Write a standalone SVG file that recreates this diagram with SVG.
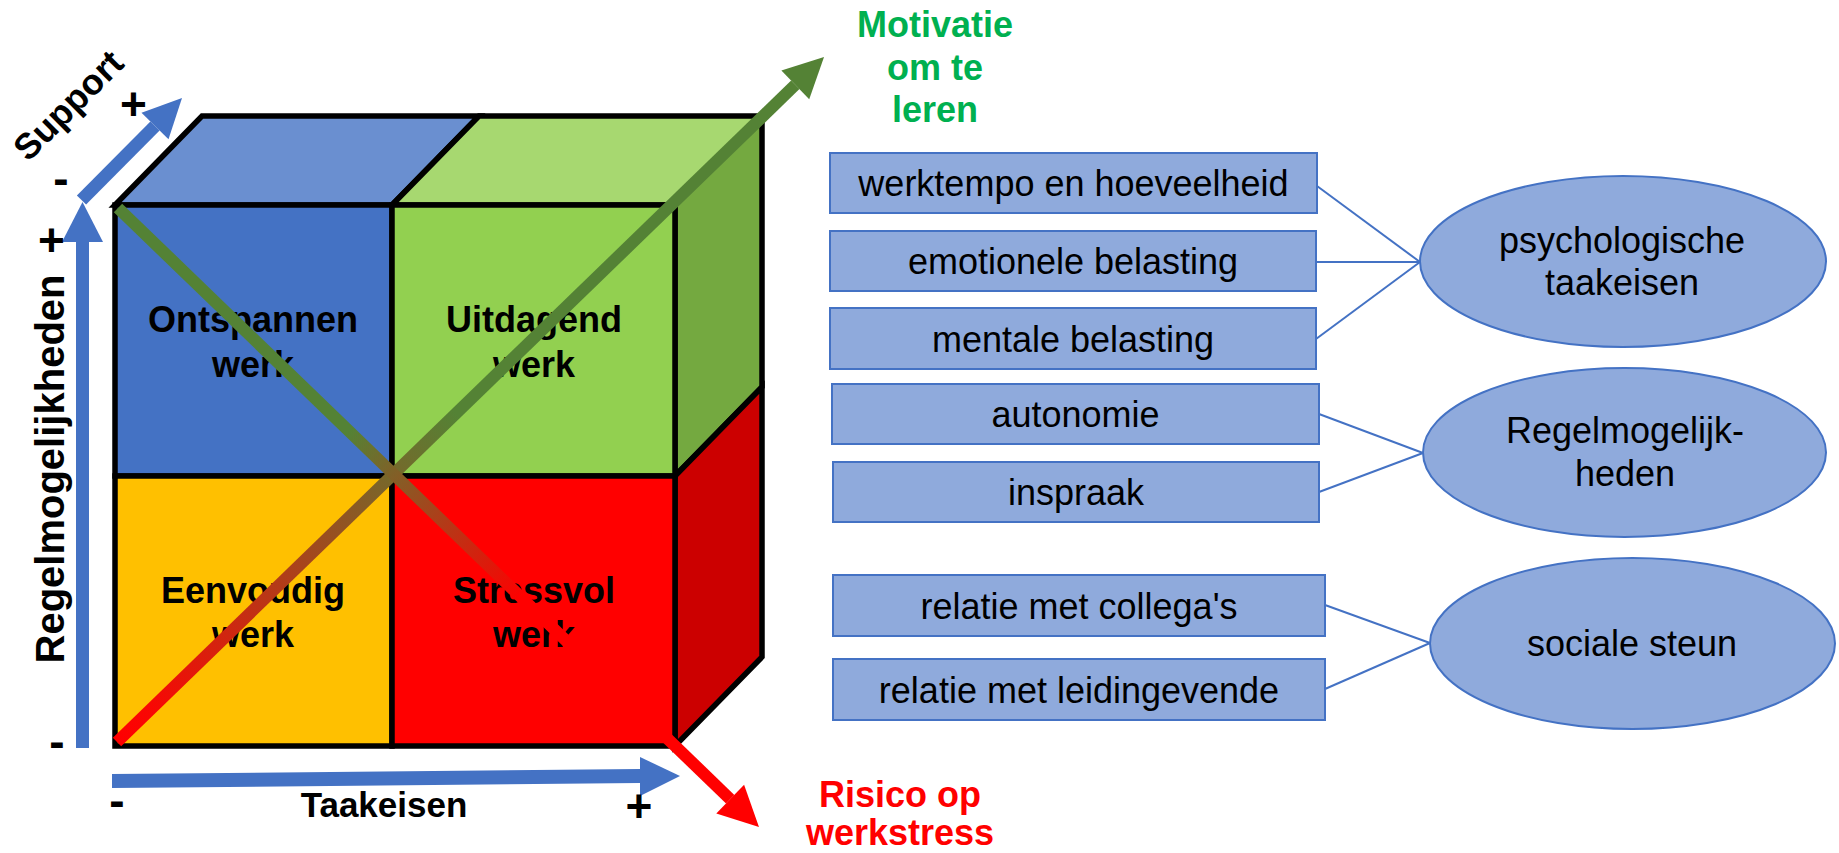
<svg xmlns="http://www.w3.org/2000/svg" width="1839" height="853" viewBox="0 0 1839 853">
<defs>
<style>
.face{stroke:#000;stroke-width:5.5;stroke-linejoin:miter}
.cell{font-family:"Liberation Sans",Arial,sans-serif;font-weight:bold;font-size:36px;text-anchor:middle;fill:#000}
.box{fill:#8FAADC;stroke:#4472C4;stroke-width:2}
.lbl{font-family:"Liberation Sans",Arial,sans-serif;font-size:36px;text-anchor:middle;fill:#000}
.axis{fill:#4472C4}
.bold{font-family:"Liberation Sans",Arial,sans-serif;font-weight:bold;text-anchor:middle;fill:#000}
.sign{font-family:"Liberation Sans",Arial,sans-serif;font-weight:bold;font-size:46px;text-anchor:middle;fill:#000}
.conn{stroke:#4472C4;stroke-width:2;fill:none}
</style>
<linearGradient id="gUp" gradientUnits="userSpaceOnUse" x1="117" y1="742" x2="824" y2="57">
<stop offset="0" stop-color="#FF0000"/>
<stop offset="0.05" stop-color="#F80804"/>
<stop offset="0.48" stop-color="#548235"/>
<stop offset="1" stop-color="#548235"/>
</linearGradient>
<linearGradient id="gDown" gradientUnits="userSpaceOnUse" x1="118" y1="208" x2="759" y2="827">
<stop offset="0" stop-color="#548235"/>
<stop offset="0.36" stop-color="#548235"/>
<stop offset="0.63" stop-color="#FF0000"/>
<stop offset="1" stop-color="#FF0000"/>
</linearGradient>
<marker id="headG" markerUnits="userSpaceOnUse" markerWidth="44" markerHeight="42" refX="0" refY="20" orient="auto" overflow="visible"><path d="M0,0 L40,20 L0,40 Z" fill="#548235"/></marker>
<marker id="headR" markerUnits="userSpaceOnUse" markerWidth="44" markerHeight="42" refX="0" refY="20" orient="auto" overflow="visible"><path d="M0,0 L40,20 L0,40 Z" fill="#FF0000"/></marker>
</defs>
<rect width="1839" height="853" fill="#FFFFFF"/>

<g id="axis-regelmogelijkheden">
<rect class="axis" x="76" y="240" width="13" height="508"/>
<polygon class="axis" points="62,242 103,242 82.5,202"/>
<text class="bold" font-size="40" transform="translate(64,469) rotate(-90)">Regelmogelijkheden</text>
<text class="sign" x="51.5" y="255.5">+</text>
<text class="sign" x="57" y="757">-</text>
</g>

<g id="axis-support">
<line x1="81.5" y1="200" x2="155" y2="126" stroke="#4472C4" stroke-width="13"/>
<polygon class="axis" points="141.5,112.7 168.5,139.3 182,98"/>
<text class="bold" font-size="36" transform="translate(77,114) rotate(-45)">Support</text>
<text class="sign" x="61" y="194">-</text>
<text class="sign" x="133.5" y="120">+</text>
</g>

<g id="axis-taakeisen">
<polygon class="axis" points="112,774 640,769 640,783 112,788"/>
<polygon class="axis" points="640,757 680,776 640,796"/>
<text class="bold" font-size="35" x="384" y="817">Taakeisen</text>
<text class="sign" x="117" y="816">-</text>
<text class="sign" x="639" y="822">+</text>
</g>

<g id="cube">
<polygon class="face" fill="#6A8FD0" points="115,205 202,116 479,116 392,205"/>
<polygon class="face" fill="#A7D870" points="392,205 479,116 762,116 675,205"/>
<polygon class="face" fill="#74A940" points="675,205 762,116 762,387 675,476"/>
<polygon class="face" fill="#CC0000" points="675,476 762,387 762,657 675,746"/>
<g id="cell-ontspannen">
<rect class="face" fill="#4472C4" x="115" y="205" width="277" height="271"/>
<text class="cell" x="253" y="332">Ontspannen</text>
<text class="cell" x="253" y="377">werk</text>
</g>
<g id="cell-uitdagend">
<rect class="face" fill="#92D050" x="392" y="205" width="283" height="271"/>
<text class="cell" x="534" y="332">Uitdagend</text>
<text class="cell" x="534" y="377">werk</text>
</g>
<g id="cell-eenvoudig">
<rect class="face" fill="#FFC000" x="115" y="476" width="277" height="270"/>
<text class="cell" x="253" y="603">Eenvoudig</text>
<text class="cell" x="253" y="647">werk</text>
</g>
<g id="cell-stressvol">
<rect class="face" fill="#FF0000" x="392" y="476" width="283" height="270"/>
<text class="cell" x="534" y="603">Stressvol</text>
<text class="cell" x="534" y="647">werk</text>
</g>
</g>

<g id="diagonals">
<line x1="117" y1="742" x2="795.3" y2="84.8" stroke="url(#gUp)" stroke-width="12" marker-end="url(#headG)"/>
<line x1="118" y1="208" x2="730.2" y2="799.2" stroke="url(#gDown)" stroke-width="12" marker-end="url(#headR)"/>
</g>

<g id="label-motivatie">
<text class="bold" font-size="36" style="fill:#00B050" x="935" y="37">Motivatie</text>
<text class="bold" font-size="36" style="fill:#00B050" x="935" y="80">om te</text>
<text class="bold" font-size="36" style="fill:#00B050" x="935" y="122">leren</text>
</g>
<g id="label-risico">
<text class="bold" font-size="36" style="fill:#FF0000" x="900" y="807">Risico op</text>
<text class="bold" font-size="36" style="fill:#FF0000" x="900" y="845">werkstress</text>
</g>

<g id="connectors">
<line class="conn" x1="1317" y1="186" x2="1420" y2="262"/>
<line class="conn" x1="1316" y1="262" x2="1420" y2="262"/>
<line class="conn" x1="1316" y1="339" x2="1420" y2="262"/>
<line class="conn" x1="1319" y1="414" x2="1423" y2="453"/>
<line class="conn" x1="1319" y1="492" x2="1423" y2="453"/>
<line class="conn" x1="1325" y1="605" x2="1430" y2="643"/>
<line class="conn" x1="1325" y1="689" x2="1430" y2="643"/>
</g>

<g id="box-werktempo"><rect class="box" x="830" y="153" width="487" height="60"/><text class="lbl" x="1073.5" y="196">werktempo en hoeveelheid</text></g>
<g id="box-emotionele"><rect class="box" x="830" y="231" width="486" height="60"/><text class="lbl" x="1073" y="274">emotionele belasting</text></g>
<g id="box-mentale"><rect class="box" x="830" y="308" width="486" height="61"/><text class="lbl" x="1073" y="351.5">mentale belasting</text></g>
<g id="box-autonomie"><rect class="box" x="832" y="384" width="487" height="60"/><text class="lbl" x="1075.5" y="427">autonomie</text></g>
<g id="box-inspraak"><rect class="box" x="833" y="462" width="486" height="60"/><text class="lbl" x="1076" y="505">inspraak</text></g>
<g id="box-collegas"><rect class="box" x="833" y="575" width="492" height="61"/><text class="lbl" x="1079" y="618.5">relatie met collega's</text></g>
<g id="box-leidingevende"><rect class="box" x="833" y="659" width="492" height="61"/><text class="lbl" x="1079" y="702.5">relatie met leidingevende</text></g>

<g id="ellipse-psychologische"><ellipse class="box" cx="1623" cy="261.5" rx="203" ry="85.5"/><text class="lbl" x="1622" y="253">psychologische</text><text class="lbl" x="1622" y="295">taakeisen</text></g>
<g id="ellipse-regelmogelijkheden"><ellipse class="box" cx="1624.5" cy="452.5" rx="201.5" ry="84.5"/><text class="lbl" x="1625" y="443">Regelmogelijk-</text><text class="lbl" x="1625" y="486">heden</text></g>
<g id="ellipse-sociale"><ellipse class="box" cx="1632.5" cy="643.5" rx="202.5" ry="85.5"/><text class="lbl" x="1632" y="656">sociale steun</text></g>
</svg>
